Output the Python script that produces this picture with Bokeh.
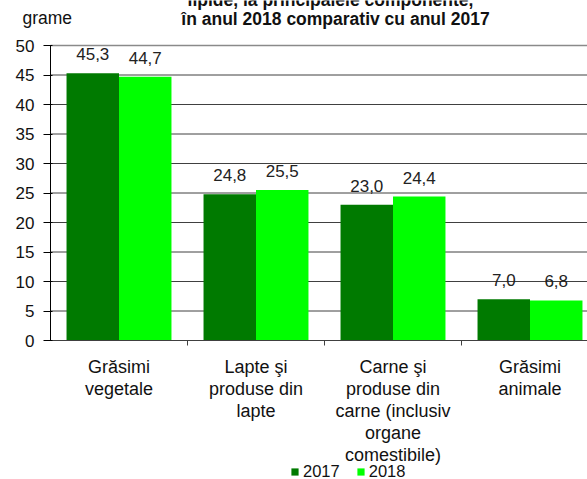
import numpy as np
from bokeh.plotting import figure
from bokeh.models import (ColumnDataSource, FixedTicker, Label, Legend, LegendItem, Range1d)
from bokeh.transform import dodge
from bokeh.core.properties import value
from bokeh.embed import file_html
from bokeh.resources import INLINE

categories = ["Grăsimi\nvegetale", "Lapte şi\nproduse din\nlapte",
              "Carne şi\nproduse din\ncarne (inclusiv\norgane\ncomestibile)",
              "Grăsimi\nanimale"]
v2017 = [45.3, 24.8, 23.0, 7.0]
v2018 = [44.7, 25.5, 24.4, 6.8]
series = ["2017", "2018"]
colors = ["#007A00", "#00FF00"]
y_ticks = [0, 5, 10, 15, 20, 25, 30, 35, 40, 45, 50]
title_lines = ["lipide, la principalele componente,",
               "în anul 2018 comparativ cu anul 2017"]
unit_label = "grame"

FONT = "Liberation Sans"
W, H = 587, 479
# pixel geometry of the reference (plot area)
X0, XS = 50, 137.0    # x of category axis origin, px per category
Y0, YS = 340, 5.9     # y of value 0, px per unit
def dx(px): return (px - X0) / XS
def dy(py): return (Y0 - py) / YS

pos = np.arange(len(categories)) + 0.5
src = ColumnDataSource(dict(
    x=pos, v2017=v2017, v2018=v2018,
    l2017=[f"{v:.1f}".replace(".", ",") for v in v2017],
    l2018=[f"{v:.1f}".replace(".", ",") for v in v2018],
))

p = figure(width=W, height=H, output_backend="svg", toolbar_location=None,
           x_range=Range1d(dx(0), dx(W)), y_range=Range1d(dy(H), dy(0)),
           min_border=0)
p.outline_line_color = None
p.background_fill_color = "white"
p.border_fill_color = "white"
p.xgrid.visible = False
p.ygrid.visible = False

xmax = dx(W)
grid_y = [t for t in y_ticks if 0 < t < 50]
p.segment(x0=[0] * len(grid_y), x1=[xmax] * len(grid_y), y0=grid_y, y1=grid_y,
          line_color="#404040", line_width=1)
p.segment(x0=[0], x1=[xmax], y0=[y_ticks[-1]], y1=[y_ticks[-1]],
          line_color="#8a8a8a", line_width=1.5)

bw = 0.383
off = bw / 2
r1 = p.vbar(x=dodge("x", -off), top="v2017", width=bw, source=src,
            fill_color=colors[0], line_color=None)
r2 = p.vbar(x=dodge("x", off), top="v2018", width=bw, source=src,
            fill_color=colors[1], line_color=None)

for col, lab, o in (("v2017", "l2017", -off), ("v2018", "l2018", off)):
    p.text(x=dodge("x", o), y=col, text=lab, source=src, text_align="center",
           text_baseline="alphabetic", y_offset=-19, text_font=value(FONT),
           text_font_size="17px", text_color="#222222")

# y axis (fixed at x = 0)
ya = p.yaxis[0]
ya.fixed_location = 0
ya.bounds = (0, 50)
ya.ticker = FixedTicker(ticks=y_ticks)
ya.axis_line_color = "black"
ya.major_tick_line_color = "black"
ya.major_tick_in = 2
ya.major_tick_out = 7
ya.minor_tick_line_color = None
ya.major_label_text_font = FONT
ya.major_label_text_font_size = "17px"
ya.major_label_text_color = "#111111"
ya.major_label_standoff = 9

# x axis (fixed at y = 0)
xa = p.xaxis[0]
xa.fixed_location = 0
xa.bounds = (0, xmax)
xa.ticker = FixedTicker(ticks=list(pos), minor_ticks=[1, 2, 3])
xa.major_label_overrides = {float(x): c for x, c in zip(pos, categories)}
xa.axis_line_color = "#404040"
xa.major_tick_line_color = None
xa.major_tick_in = 0
xa.major_tick_out = 0
xa.minor_tick_line_color = "#404040"
xa.minor_tick_in = 0
xa.minor_tick_out = 5
xa.major_label_text_font = FONT
xa.major_label_text_font_size = "18px"
xa.major_label_text_color = "#111111"
xa.major_label_text_line_height = 1.11
xa.major_label_standoff = 11

# texts above the plot
common = dict(text_font=FONT, text_font_size="17.5px", text_color="#111111",
              text_baseline="alphabetic")
p.add_layout(Label(x=dx(22), y=dy(17), text=unit_label, text_align="left", **common))
p.add_layout(Label(x=dx(330), y=dy(-1), text=title_lines[0], text_align="center",
                   text_font_style="bold", **common))
p.add_layout(Label(x=dx(335), y=dy(18), text=title_lines[1], text_align="center",
                   text_font_style="bold", **common))

legend = Legend(items=[LegendItem(label=series[0], renderers=[r1]),
                       LegendItem(label=series[1], renderers=[r2])],
                orientation="horizontal", location=(290, -2),
                glyph_width=9, glyph_height=9, label_standoff=4, spacing=16,
                padding=0, margin=0, border_line_color=None,
                background_fill_alpha=0, label_text_font=FONT,
                label_text_font_size="16.5px", label_text_color="#111111",
                label_height=18)
p.add_layout(legend, "center")

open("out.html", "w").write(file_html(p, INLINE))
